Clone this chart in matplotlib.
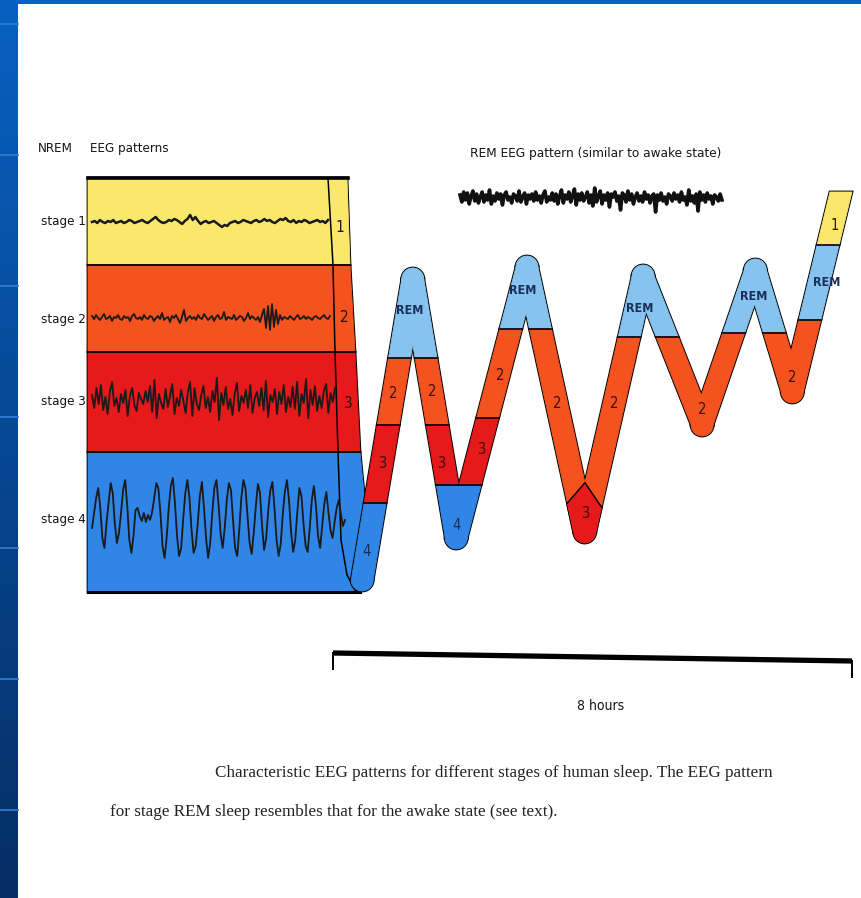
import numpy as np
import matplotlib.pyplot as plt
from matplotlib.patches import Polygon

W, H = 862, 898
SANS = ['DejaVu Sans']
SERIF = ['Liberation Serif', 'DejaVu Serif']

# stage colours
stage_col = {'1': '#f9e86c', '2': '#f4531f', '3': '#e6191b',
             '4': '#2f86e6', 'REM': '#86c3ef'}

# ---- data -------------------------------------------------------------
# hypnogram turning points: time in hours, depth on the figure's vertical scale
hyp_t = [0.45, 1.23, 1.90, 2.99, 3.88, 4.78, 5.69, 6.51, 7.08, 7.83]
hyp_d = [580, 279, 538, 267, 532, 276, 425, 270, 392, 192]

# stages along each leg: (stage, depth where it ends; None = next turning point)
leg_stages = [
    [('4', 503), ('3', 425), ('2', 358), ('REM', None)],
    [('REM', 358), ('2', 425), ('3', 485), ('4', None)],
    [('4', 485), ('3', 418), ('2', 329), ('REM', None)],
    [('REM', 329), ('2', None)],
    [('2', 337), ('REM', None)],
    [('REM', 337), ('2', None)],
    [('2', 333), ('REM', None)],
    [('REM', 333), ('2', None)],
    [('2', 320), ('REM', 245), ('1', None)],
]
# stage at each turning point (rounded end), None = cut flat
cap_stages = ['4', 'REM', '4', 'REM', '3', 'REM', '2', 'REM', '2', None]
# stage 3 pocket at the bottom of the 2nd trough (turning point 4)
pocket_node = 4
pocket_edge_depth = [503, 507]

# labels on the band: text, leg (or node with 'n'), depth, x shift px
band_labels = [
    ('4', 0, 552, 0), ('3', 0, 463, 0), ('2', 0, 393, 0),
    ('REM', 'n1', 310, -3),
    ('2', 1, 392, 0), ('3', 1, 463, -2), ('4', 'n2', 525, 0),
    ('3', 2, 450, 2), ('2', 2, 375, 1), ('REM', 'n3', 290, -4),
    ('2', 3, 404, 0), ('3', 'n4', 514, 0), ('2', 4, 403, 0),
    ('REM', 'n5', 308, -3), ('2', 'n6', 410, 0), ('REM', 'n7', 297, -2),
    ('2', 'n8', 378, 0), ('REM', 8, 283, 8), ('1', 8, 225, 2),
]

# NREM EEG traces (pixel deflection, up positive)
eeg_s1 = [0, 1, -1, 2, 0, -1, 1, 0, 2, -1, 0, 1, -1, 0, 2, 1, -1, 0, 1, 2, 0, -1,
          1, 3, 5, 2, 0, -1, 0, 2, 1, 3, 2, 0, -2, 1, 3, 7, 2, 5, 1, -2, 0, 1, -1,
          0, 1, -1, -3, -5, -3, -4, -1, 0, 1, -1, 0, 2, 1, 0, -1, 1, 2, 0, 1, 3, 1,
          2, 0, -1, 1, 3, 2, 4, 1, 0, 2, -1, 1, 0, 2, 1, -1, 0, 1, 2, 0, 1, -1, 2]
eeg_s2 = [2, -1, 3, 0, -2, 1, 4, -1, 0, 2, -3, 1, 0, 3, -1, -2, 2, 0, 1, -3, 2, 4,
          0, -1, 1, -2, 3, 0, -1, 2, 1, -3, 0, 2, -1, 5, -2, 0, 1, -4, 2, 0, 3, -1,
          -5, 1, 8, -3, 0, 2, -1, 1, -2, 3, 0, -1, 4, 1, -2, 0, 2, -3, 1, 3, -1, 0,
          6, -2, 1, 0, -1, 3, -2, 0, 2, 1, -3, 0, 5, -1, 2, 0, -2, 1, -4, 3, 9, -10,
          12, -12, 14, -9, 8, -6, 3, -2, 1, 0, -1, 2, 0, -2, 1, 3, -1, 0, 2, -1, 1,
          0, -2, 1, 2, 0, -1, 1, 3, 0, -1, 2]
eeg_s3 = [5, -8, 12, -4, 15, -10, 3, -14, 8, 18, -6, 2, -12, 6, -3, 10, -16, 4, 12,
          -5, -11, 7, 1, -4, 9, -2, 14, -12, 20, -18, 6, -3, -9, 11, -7, 4, 16, -14,
          2, -6, 10, -1, -13, 8, 18, -16, 12, -4, -10, 5, 14, -8, 3, -12, 9, -2, 22,
          -20, 7, -5, 13, -9, 1, -15, 6, 17, -11, 4, -3, 10, -8, 15, -13, 2, 8, -6,
          12, -10, 19, -17, 5, -2, 11, -14, 8, -4, 15, -12, 3, -7, 13, -9, 18, -16,
          6, -3, 21, -18, 10, -5, 14, -11, 4, -8, 9, 16, -13, 7, -2, 12]
eeg_s4 = [-10, 5, 20, 30, 10, -20, -30, -5, 15, 35, 25, -5, -25, -15, 5, 28, 38, 12,
          -22, -35, -18, 8, 10, 2, -3, 5, -4, 3, -2, 6, 20, 35, 30, 5, -28, -40, -20,
          10, 32, 40, 15, -18, -38, -30, 0, 25, 38, 20, -12, -35, -28, -5, 22, 36,
          10, -20, -40, -25, 5, 30, 38, 14, -15, -30, -10, 18, 35, 28, -2, -30, -38,
          -12, 20, 38, 30, 2, -25, -36, -15, 12, 34, 25, -8, -32, -20, 8, 28, 36, 10,
          -22, -38, -26, 4, 26, 38, 18, -14, -34, -22, 6, 30, 22, -6, -28, -34, -10,
          18, 32, 12, -18, -30, -8, 14, 26, 6, -12, -20, -4, 10, 18, 4, -8, -2]
# REM EEG trace
eeg_rem = [3, -4, 6, -2, 5, -6, 2, 7, -3, 4, -5, 1, 6, -4, 3, -2, 8, -6, 2, -3, 5, -1,
           4, -7, 3, 6, -2, 1, -5, 4, 2, -3, 7, -4, 1, 5, -6, 3, -1, 4, -3, 6, -2, 2,
           -5, 3, 7, -4, 1, -2, 5, -3, 4, -6, 2, 8, -5, 3, -1, 6, -4, 2, 9, -7, 4, -2,
           5, -3, 1, 6, -5, 3, -8, 10, -4, 2, 7, -6, 3, -2, 5, -9, 4, 1, 6, -3, 2, -12,
           5, 3, -4, 7, -2, 4, -6, 1, 5, -3, 2, -4, 6, -1, 3, -5, 2, 4, -14, 3, -2, 5,
           -3, 1, -6, 4, 2, -3, 5, -1, 3, -4, 6, -2, 1, -7, 8, -3, 2, -5, 4, -13, 6,
           -2, 3, -4, 5, -1, 2, -6, 3, 1, -3, 4, -2]

nrem_stages = ['1', '2', '3', '4']
panel_edges = [178, 265, 352, 452, 592]       # stage rows of the left panel
trace_base = [222, 318, 400, 518]
label_y = [222, 320, 402, 520]

caption = ["Characteristic EEG patterns for different stages of human sleep. The EEG pattern",
           "for stage REM sleep resembles that for the awake state (see text)."]

# ---- figure -----------------------------------------------------------
fig = plt.figure(figsize=(W / 100, H / 100), dpi=100)
ax = fig.add_axes([0, 0, 1, 1])
ax.set_xlim(0, W)
ax.set_ylim(H, 0)
ax.axis('off')

TXT = dict(family=SANS, fontstretch='condensed', color='#151515')

# blue slide frame
grad = np.linspace(0, 1, 200)[:, None, None]
top_c = np.array([0.03, 0.38, 0.76])
bot_c = np.array([0.02, 0.18, 0.39])
ax.imshow(top_c * (1 - grad) + bot_c * grad, extent=[0, 18, H, 0], aspect='auto', zorder=0)
ax.add_patch(Polygon([(0, 0), (W, 0), (W, 4), (0, 4)], closed=True, fc='#0a60c2', ec='none', zorder=0))
for yl in range(24, H, 131):
    ax.plot([0, 18], [yl, yl], color='#2f7fd4', lw=1.2, zorder=1)

# left NREM panel
right_x = [347, 350, 355, 360]
panel_polys = []
for k, st in enumerate(nrem_stages):
    y0, y1 = panel_edges[k], panel_edges[k + 1]
    if st == '4':
        pts = [(88, y0), (360, y0), (365, 503), (366, 585), (360, y1), (88, y1)]
    else:
        pts = [(88, y0), (right_x[k], y0), (right_x[k + 1] if k + 1 < 4 else 360, y1), (88, y1)]
    panel_polys.append((st, pts))
for st, pts in panel_polys:
    ax.add_patch(Polygon(pts, closed=True, fc='k', ec='k', lw=2.0, zorder=2))
for st, pts in panel_polys:
    ax.add_patch(Polygon(pts, closed=True, fc=stage_col[st], ec=stage_col[st], lw=0.6, zorder=3))
for k in range(1, 4):
    ax.plot([88, right_x[k]], [panel_edges[k]] * 2, color='k', lw=1.3, zorder=4)
ax.plot([88, 348], [178, 178], color='k', lw=2.6, zorder=4)
ax.plot([88, 360], [592, 592], color='k', lw=2.2, zorder=4)
ax.plot([328, 333, 335, 338, 341, 347, 356], [178, 265, 352, 452, 540, 575, 592],
        color='k', lw=1.1, zorder=4)

# NREM traces
trace_x1 = [328, 330, 335, 345]
for k, tr in enumerate([eeg_s1, eeg_s2, eeg_s3, eeg_s4]):
    xs = np.linspace(92, trace_x1[k], len(tr))
    ax.plot(xs, trace_base[k] - np.array(tr), color='#1a1a1a', lw=1.8 if k == 0 else 1.3,
            zorder=5, solid_joinstyle='round')
    ax.text(86, label_y[k], 'stage ' + nrem_stages[k], ha='right', va='center',
            fontsize=9.5, zorder=6, **TXT)
for st, xx, yy in [('1', 340, 228), ('2', 344, 317), ('3', 348, 403)]:
    ax.text(xx, yy, st, ha='center', va='center', fontsize=11, zorder=6,
            family=SANS, fontstretch='condensed', color='#2a1010')

ax.text(38, 152, 'NREM', ha='left', va='baseline', fontsize=9.5, **TXT)
ax.text(90, 152, 'EEG patterns', ha='left', va='baseline', fontsize=9.5, **TXT)

# REM trace
ax.text(470, 157, 'REM EEG pattern (similar to awake state)', ha='left', va='baseline',
        fontsize=9.7, **TXT)
xs = np.linspace(460, 722, len(eeg_rem))
ax.plot(xs, 198 - np.array(eeg_rem), color='#111111', lw=2.6, zorder=5)

# caption
ax.text(215, 773, caption[0], ha='left', va='center', family=SERIF, fontsize=12.3, color='#222222')
ax.text(110, 812, caption[1], ha='left', va='center', family=SERIF, fontsize=12.3, color='#222222')

# ---- hypnogram (hours on x) -------------------------------------------
PX_PER_H = (852 - 333) / 8
hx = fig.add_axes([0, 0, 1, 1])
hx.set_xlim(-333 / PX_PER_H, (W - 333) / PX_PER_H)
hx.set_ylim(H, 0)
hx.axis('off')

BAND_W = 22 / PX_PER_H
CAP_H = 11


def leg_x(i, d):
    t0, d0, t1, d1 = hyp_t[i], hyp_d[i], hyp_t[i + 1], hyp_d[i + 1]
    return t0 + (t1 - t0) * (d - d0) / (d1 - d0)


pieces = []
bounds = []
for i, leg in enumerate(leg_stages):
    d_prev = hyp_d[i]
    for j, (st, d_end) in enumerate(leg):
        if d_end is None:
            d_end = hyp_d[i + 1]
        xa, xb = leg_x(i, d_prev), leg_x(i, d_end)
        pieces.append((st, [(xa - BAND_W / 2, d_prev), (xa + BAND_W / 2, d_prev),
                            (xb + BAND_W / 2, d_end), (xb - BAND_W / 2, d_end)]))
        if j < len(leg) - 1:
            bounds.append((xb, d_end))
        d_prev = d_end

for k, st in enumerate(cap_stages):
    if st is None:
        continue
    t, d = hyp_t[k], hyp_d[k]
    nb = [hyp_d[j] for j in (k - 1, k + 1) if 0 <= j < len(hyp_d)]
    sign = -1 if all(n > d for n in nb) else 1
    q = np.linspace(0, np.pi, 40)
    pieces.append((st, list(zip(t + BAND_W / 2 * np.cos(q), d + sign * CAP_H * np.sin(q)))))

# stage 3 pocket
n = pocket_node
a3 = (hyp_t[n] - hyp_t[n - 1]) / (hyp_d[n] - hyp_d[n - 1])
a4 = (hyp_t[n + 1] - hyp_t[n]) / (hyp_d[n + 1] - hyp_d[n])
d_notch = hyp_d[n] - BAND_W / (a3 - a4)
notch = (leg_x(n - 1, d_notch) + BAND_W / 2, d_notch)
pl = (leg_x(n - 1, pocket_edge_depth[0]) - BAND_W / 2, pocket_edge_depth[0])
pr = (leg_x(n, pocket_edge_depth[1]) + BAND_W / 2, pocket_edge_depth[1])
pieces.append(('3', [notch, pr, (hyp_t[n] + BAND_W / 2, hyp_d[n]),
                     (hyp_t[n] - BAND_W / 2, hyp_d[n]), pl]))

for st, pts in pieces:
    hx.add_patch(Polygon(pts, closed=True, fc='k', ec='k', lw=2.0, zorder=2))
for st, pts in pieces:
    hx.add_patch(Polygon(pts, closed=True, fc=stage_col[st], ec=stage_col[st], lw=0.6, zorder=3))
for xb, d in bounds:
    hx.plot([xb - BAND_W / 2, xb + BAND_W / 2], [d, d], color='k', lw=1.2, zorder=4)
hx.plot([pl[0], notch[0], pr[0]], [pl[1], notch[1], pr[1]], color='k', lw=1.0, zorder=4)

for txt, where, d, dx in band_labels:
    if isinstance(where, str):
        x = hyp_t[int(where[1:])]
    else:
        x = leg_x(where, d)
    x += dx / PX_PER_H
    on_blue = txt == 'REM' or txt == '4'
    hx.text(x, d, txt, ha='center', va='center', family=SANS, fontstretch='condensed',
            fontsize=9 if txt == 'REM' else 10.5,
            fontweight='bold' if txt == 'REM' else 'normal',
            color='#1c2f5c' if on_blue else '#3a1010', zorder=6)

# 8 hour scale bar
hx.plot([0, 8], [653, 661], color='k', lw=3.8, solid_capstyle='butt', zorder=4)
hx.plot([0, 0], [653, 669], color='k', lw=1.4, zorder=4)
hx.plot([8, 8], [661, 677], color='k', lw=1.4, zorder=4)
hx.text(4.12, 706, '8 hours', ha='center', va='center', fontsize=10, **TXT)

fig.savefig('out.png', dpi=100)
